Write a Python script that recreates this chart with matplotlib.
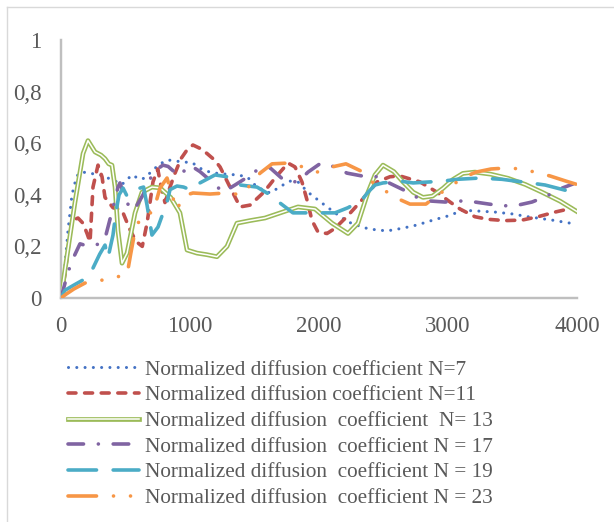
import matplotlib
matplotlib.use("Agg")
import matplotlib.pyplot as plt
import matplotlib.patheffects as pe
from matplotlib.lines import Line2D

# values
x7 = [0, 30, 54, 85, 120, 147, 200, 260, 320, 364, 434, 473, 550, 612, 651, 700, 767, 830, 946,
      1015, 1101, 1178, 1280, 1364, 1442, 1519, 1620, 1721, 1775, 1837, 1915, 2023, 2124, 2225,
      2333, 2395, 2527, 2643, 2760, 2884, 3000, 3116, 3233, 3364, 3496, 3620, 3806, 3984]
y7 = [0, 0.12, 0.26, 0.40, 0.47, 0.487, 0.487, 0.48, 0.475, 0.465, 0.45, 0.44, 0.477, 0.46, 0.465,
      0.49, 0.52, 0.535, 0.527, 0.525, 0.496, 0.485, 0.48, 0.477, 0.47, 0.43, 0.407, 0.438, 0.453,
      0.45, 0.41, 0.368, 0.33, 0.295, 0.275, 0.267, 0.26, 0.27, 0.283, 0.302, 0.318, 0.34, 0.337,
      0.333, 0.326, 0.315, 0.302, 0.287]

x11 = [0, 30, 54, 85, 132, 170, 202, 225, 248, 287, 318, 341, 403, 473, 530, 580, 630, 667, 713,
       750, 780, 806, 845, 884, 930, 977, 1023, 1077, 1132, 1190, 1233, 1310, 1388, 1465, 1566,
       1620, 1659, 1720, 1760, 1814, 1868, 1907, 1946, 1992, 2062, 2124, 2225, 2333, 2411, 2450,
       2550, 2628, 2783, 2915, 3016, 3093, 3209, 3310, 3442, 3574, 3698, 3829, 3961]
y11 = [0, 0.09, 0.186, 0.30, 0.31, 0.29, 0.25, 0.217, 0.43, 0.515, 0.47, 0.39, 0.35, 0.34, 0.27,
       0.22, 0.2, 0.29, 0.45, 0.5, 0.42, 0.37, 0.43, 0.484, 0.54, 0.574, 0.593, 0.58, 0.56, 0.535,
       0.508, 0.43, 0.353, 0.36, 0.407, 0.44, 0.465, 0.50, 0.523, 0.508, 0.45, 0.38, 0.30, 0.256,
       0.25, 0.27, 0.32, 0.38, 0.426, 0.45, 0.47, 0.473, 0.45, 0.41, 0.372, 0.345, 0.315, 0.305,
       0.30, 0.302, 0.315, 0.333, 0.348]

x13 = [0, 31, 108, 171, 209, 264, 310, 341, 370, 395, 419, 442, 473, 512, 574, 628, 705, 767, 850,
       922, 977, 1054, 1130, 1209, 1287, 1364, 1465, 1581, 1700, 1837, 1969, 2101, 2225, 2302,
       2380, 2434, 2496, 2580, 2651, 2730, 2806, 2880, 2961, 3040, 3116, 3209, 3330, 3465, 3600,
       3729, 3870, 4000]
y13 = [0, 0.11, 0.37, 0.56, 0.61, 0.566, 0.554, 0.54, 0.52, 0.515, 0.43, 0.26, 0.135, 0.174, 0.33,
       0.41, 0.43, 0.427, 0.39, 0.33, 0.186, 0.174, 0.168, 0.16, 0.2, 0.29, 0.30, 0.31, 0.33, 0.353,
       0.345, 0.29, 0.25, 0.29, 0.41, 0.477, 0.515, 0.49, 0.45, 0.41, 0.39, 0.395, 0.425, 0.46,
       0.483, 0.488, 0.48, 0.464, 0.44, 0.41, 0.375, 0.335]

x17 = [0, 54, 100, 147, 217, 300, 341, 372, 403, 442, 457, 496, 540, 589, 636, 680, 720, 790, 830,
       915, 1000, 1077, 1170, 1256, 1349, 1450, 1543, 1620, 1736, 1837, 1915, 2015, 2124, 2217,
       2333, 2450, 2527, 2651, 2760, 2860, 2977, 3093, 3209, 3318, 3426, 3543, 3651, 3767, 3853,
       3969]
y17 = [0, 0.1, 0.16, 0.21, 0.2, 0.21, 0.23, 0.29, 0.35, 0.43, 0.446, 0.39, 0.34, 0.36, 0.40, 0.45,
       0.49, 0.515, 0.51, 0.473, 0.515, 0.49, 0.45, 0.41, 0.438, 0.47, 0.504, 0.505, 0.453, 0.45,
       0.488, 0.523, 0.508, 0.484, 0.473, 0.47, 0.45, 0.42, 0.39, 0.376, 0.372, 0.376, 0.372, 0.364,
       0.357, 0.36, 0.372, 0.395, 0.42, 0.442]

x19 = [0, 31, 100, 171, 210, 248, 300, 341, 364, 403, 426, 450, 481, 512, 560, 612, 640, 667, 705,
       752, 822, 845, 899, 950, 1000, 1077, 1194, 1287, 1388, 1519, 1620, 1698, 1798, 1900, 2031,
       2124, 2225, 2333, 2380, 2434, 2496, 2628, 2729, 2961, 3070, 3248, 3419, 3636, 3752, 3969]
y19 = [0, 0.03, 0.05, 0.07, 0.09, 0.116, 0.17, 0.205, 0.155, 0.244, 0.333, 0.40, 0.426, 0.395,
       0.415, 0.426, 0.43, 0.36, 0.244, 0.275, 0.372, 0.42, 0.434, 0.43, 0.42, 0.446, 0.477, 0.47,
       0.438, 0.43, 0.40, 0.368, 0.33, 0.33, 0.33, 0.33, 0.35, 0.38, 0.41, 0.438, 0.446, 0.453,
       0.446, 0.453, 0.46, 0.465, 0.46, 0.446, 0.438, 0.41]

x23 = [0, 40, 100, 186, 294, 403, 480, 512, 540, 566, 612, 660, 713, 767, 822, 860, 899, 922, 977,
       1023, 1155, 1279, 1403, 1470, 1543, 1636, 1760, 1876, 1992, 2101, 2209, 2326, 2411, 2500,
       2589, 2705, 2829, 2922, 3016, 3109, 3217, 3333, 3457, 3570, 3674, 3791, 3915, 4000]
y23 = [0, 0.015, 0.035, 0.058, 0.066, 0.081, 0.085, 0.09, 0.17, 0.24, 0.31, 0.33, 0.33, 0.426,
       0.465, 0.40, 0.34, 0.368, 0.40, 0.407, 0.403, 0.407, 0.40, 0.44, 0.484, 0.52, 0.523, 0.508,
       0.488, 0.508, 0.52, 0.492, 0.45, 0.42, 0.39, 0.364, 0.364, 0.40, 0.43, 0.465, 0.488, 0.5,
       0.504, 0.5, 0.488, 0.473, 0.453, 0.44]

labels = ["Normalized diffusion coefficient N=7",
          "Normalized diffusion coefficient N=11",
          "Normalized diffusion  coefficient  N= 13",
          "Normalized diffusion  coefficient N = 17",
          "Normalized diffusion  coefficient N = 19",
          "Normalized diffusion  coefficient N = 23"]
yticks = [0, 0.2, 0.4, 0.6, 0.8, 1]
ytick_labels = ["0", "0,2", "0,4", "0,6", "0,8", "1"]
xticks = [0, 1000, 2000, 3000, 4000]

plt.rcParams["font.family"] = ["Liberation Serif", "DejaVu Serif"]
grey = "#595959"

fig = plt.figure(figsize=(6.14, 5.22), dpi=100)
ax = fig.add_axes([61 / 614, 224 / 522, 516 / 614, 258 / 522])

lw = 2.6
ax.plot(x7, y7, color="#4472C4", lw=2.2, ls=(0, (0.01, 2.7)),
        dash_capstyle="round", label=labels[0], zorder=3)
ax.plot(x11, y11, color="#C0504D", lw=lw, ls=(0, (2.2, 2.4)),
        dash_capstyle="round", label=labels[1], zorder=4)
ax.plot(x13, y13, color="white", lw=1.1, label=labels[2], zorder=5,
        path_effects=[pe.Stroke(linewidth=3.4, foreground="#9BBB59"), pe.Normal()])
ax.plot(x17, y17, color="#8064A2", lw=lw, ls=(0, (4.3, 4.1, 0.01, 4.1)),
        dash_capstyle="round", label=labels[3], zorder=6)
ax.plot(x19, y19, color="#4BACC6", lw=lw, ls=(0, (7.9, 4.6)),
        dash_capstyle="round", label=labels[4], zorder=7)
ax.plot(x23, y23, color="#F79646", lw=lw, ls=(0, (7.9, 4.7, 0.01, 4.7, 0.01, 4.7)),
        dash_capstyle="round", label=labels[5], zorder=8)

ax.set_xlim(0, 4000)
ax.set_ylim(0, 1)
ax.set_xticks(xticks)
ax.set_yticks(yticks)
ax.set_yticklabels(ytick_labels)
for side in ["top", "right"]:
    ax.spines[side].set_visible(False)
for side in ["left", "bottom"]:
    ax.spines[side].set_color("#BFBFBF")
    ax.spines[side].set_linewidth(1.75)
ax.tick_params(length=0, labelsize=16.5, labelcolor=grey)
ax.tick_params(axis="y", pad=14)
ax.tick_params(axis="x", pad=13)

leg = fig.legend(loc="upper left", bbox_to_anchor=(68 / 614, 1 - 360 / 522),
                 frameon=False, borderpad=0, borderaxespad=0, handlelength=3.34,
                 handletextpad=0.28, labelspacing=0.27, fontsize=15.3)
for t in leg.get_texts():
    t.set_color(grey)

# light frame around the chart area
fig.add_artist(Line2D([7 / 614, 1], [1 - 7 / 522, 1 - 7 / 522], color="#D9D9D9", lw=1))
fig.add_artist(Line2D([7 / 614, 7 / 614], [0, 1 - 7 / 522], color="#D9D9D9", lw=1))

fig.savefig("out.png", dpi=100)
